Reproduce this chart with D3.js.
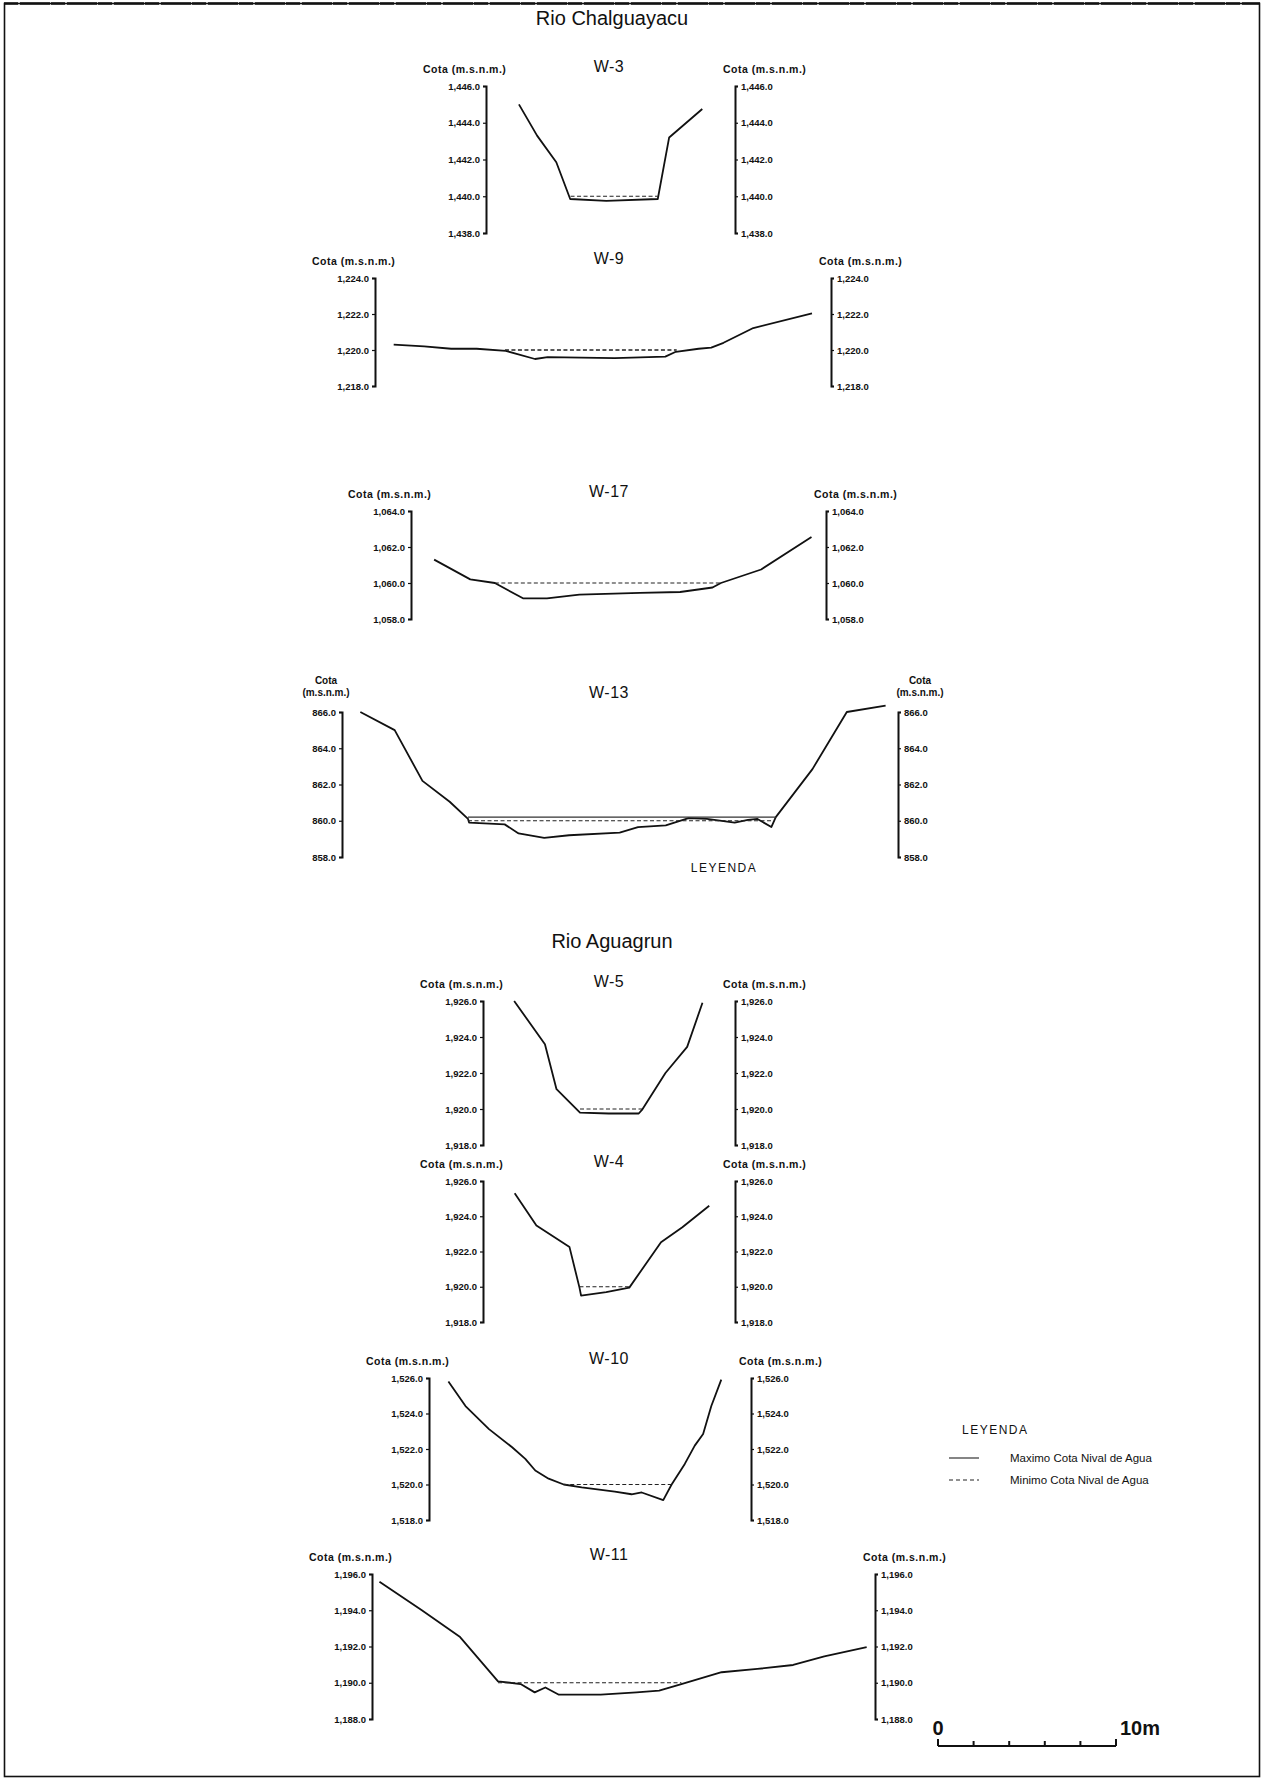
<!DOCTYPE html>
<meta charset="utf-8">
<script src="https://d3js.org/d3.v7.min.js"></script>
<style>
  body { margin: 0; background: #fff; }
  text { font-family: "Liberation Sans", Arial, sans-serif; fill: #111; }
</style>
<body>
<div id="my_dataviz"></div>
<script>

// section titles and panel names
var sectionTitles = ["Rio Chalguayacu", "Rio Aguagrun"];
var panelNames = ["W-3", "W-9", "W-17", "W-13", "W-5", "W-4", "W-10", "W-11"];

// elevation axis domains (m.s.n.m.), ticks every 2 m
var yDomains = [[1438, 1446], [1218, 1224], [1058, 1064], [858, 866],
                [1918, 1926], [1918, 1926], [1518, 1526], [1188, 1196]];

// cross sections: distance (m) and ground elevation (m.s.n.m.)
var w3Dist = [1.85, 2.87, 3.95, 4.73, 6.76, 9.65, 10.29, 12.15];
var w3Elev = [1445.0, 1443.3, 1441.85, 1439.85, 1439.75, 1439.85, 1443.2, 1444.75];

var w9Dist = [1.05, 2.76, 4.28, 5.71, 7.35, 8.99, 9.70, 13.47, 16.31, 16.90, 18.18, 18.89, 19.58, 21.25, 24.55];
var w9Elev = [1220.3, 1220.2, 1220.07, 1220.07, 1219.95, 1219.5, 1219.6, 1219.55, 1219.63, 1219.9, 1220.07, 1220.13, 1220.4, 1221.22, 1222.03];

var w17Dist = [1.30, 3.33, 4.71, 6.29, 7.64, 9.46, 12.86, 15.12, 16.94, 17.41, 19.67, 22.5];
var w17Elev = [1061.3, 1060.2, 1060.0, 1059.15, 1059.15, 1059.35, 1059.45, 1059.5, 1059.75, 1060.0, 1060.75, 1062.55];

var w13Dist = [1.03, 2.96, 4.52, 6.05, 7.08, 7.14, 9.14, 9.92, 11.36, 12.76, 15.6, 16.63, 18.19, 19.47, 20.5, 22.06, 22.81, 23.34, 24.12, 24.37, 26.43, 28.36, 30.54];
var w13Elev = [866.0, 865.0, 862.2, 861.05, 860.1, 859.9, 859.8, 859.3, 859.05, 859.2, 859.35, 859.65, 859.75, 860.15, 860.1, 859.9, 860.05, 860.1, 859.65, 860.2, 862.85, 866.0, 866.35];

var w5Dist = [1.75, 3.48, 4.13, 5.45, 7.06, 8.75, 8.93, 10.25, 11.47, 12.33];
var w5Elev = [1926.0, 1923.6, 1921.1, 1919.8, 1919.75, 1919.75, 1919.95, 1922.0, 1923.45, 1925.9];

var w4Dist = [1.78, 3.0, 4.86, 5.42, 5.51, 6.92, 8.22, 10.0, 11.2, 12.71];
var w4Elev = [1925.3, 1923.47, 1922.25, 1919.95, 1919.5, 1919.7, 1919.95, 1922.53, 1923.38, 1924.6];

var w10Dist = [1.09, 2.05, 3.37, 4.67, 5.41, 5.97, 6.72, 7.57, 8.58, 10.44, 11.38, 11.95, 13.16, 13.63, 14.37, 14.93, 15.4, 15.86, 16.42];
var w10Elev = [1525.8, 1524.42, 1523.12, 1522.1, 1521.44, 1520.79, 1520.33, 1520.0, 1519.84, 1519.6, 1519.45, 1519.55, 1519.12, 1520.0, 1521.16, 1522.19, 1522.84, 1524.42, 1525.91];

var w11Dist = [0.42, 2.80, 4.95, 7.08, 8.35, 9.14, 9.74, 10.5, 12.85, 14.86, 16.13, 17.38, 19.64, 21.65, 23.66, 25.41, 27.79];
var w11Elev = [1195.57, 1194.0, 1192.52, 1190.08, 1189.93, 1189.47, 1189.74, 1189.34, 1189.34, 1189.47, 1189.56, 1189.93, 1190.58, 1190.76, 1190.98, 1191.45, 1191.97];

// minimum water level (dashed): level, from, to (m)
var minLevel = [1440.0, 1220.0, 1060.0, 860.0, 1920.0, 1920.0, 1520.0, 1190.0];
var minFrom  = [4.75, 7.3, 4.71, 7.08, 5.45, 5.42, 7.57, 7.08];
var minTo    = [9.65, 16.95, 17.41, 24.2, 8.93, 8.22, 13.63, 17.38];

// maximum water level (solid), only distinct at W-13
var maxLevel = [null, null, null, 860.2, null, null, null, null];
var maxFrom  = [null, null, null, 7.08, null, null, null, null];
var maxTo    = [null, null, null, 24.37, null, null, null, null];

// legend and scale bar
var legendLabels = ["Maximo Cota Nival de Agua", "Minimo Cota Nival de Agua"];
var scaleTicks = [0, 2, 4, 6, 8, 10];

var dists = [w3Dist, w9Dist, w17Dist, w13Dist, w5Dist, w4Dist, w10Dist, w11Dist];
var elevs = [w3Elev, w9Elev, w17Elev, w13Elev, w5Elev, w4Elev, w10Elev, w11Elev];

// page layout (pixels) for each panel: left axis, right axis, top, bottom
var frames = [
    { left: 486, right: 735, top: 86,   bottom: 233 },
    { left: 375, right: 831, top: 278,  bottom: 386 },
    { left: 411, right: 826, top: 511,  bottom: 619 },
    { left: 342, right: 898, top: 712,  bottom: 857 },
    { left: 483, right: 735, top: 1001, bottom: 1145 },
    { left: 483, right: 735, top: 1181, bottom: 1322 },
    { left: 429, right: 751, top: 1378, bottom: 1520 },
    { left: 372, right: 875, top: 1574, bottom: 1719 }
];
var pxPerMetre = 17.8;
var titleX = 609;

var width = 1263, height = 1780;

var svg = d3.select("#my_dataviz")
    .append("svg")
    .attr("width", width)
    .attr("height", height);

// page frame
svg.append("rect")
    .attr("x", 4.5).attr("y", 3.5)
    .attr("width", 1255).attr("height", 1773)
    .attr("fill", "none")
    .attr("stroke", "#111")
    .attr("stroke-width", 1.6);
svg.append("line")
    .attr("x1", 4).attr("x2", 1260)
    .attr("y1", 3.5).attr("y2", 3.5)
    .attr("stroke", "#111")
    .attr("stroke-width", 2.6)
    .attr("stroke-dasharray", "14,2,30,1");

// section titles
svg.append("text")
    .attr("x", 612).attr("y", 25)
    .attr("text-anchor", "middle")
    .attr("font-size", "20px")
    .text(sectionTitles[0]);
svg.append("text")
    .attr("x", 612).attr("y", 948)
    .attr("text-anchor", "middle")
    .attr("font-size", "20px")
    .text(sectionTitles[1]);

panelNames.forEach(function (name, i) {
    var f = frames[i];
    var dom = yDomains[i];
    var widthM = (f.right - f.left) / pxPerMetre;

    var x = d3.scaleLinear().domain([0, widthM]).range([f.left, f.right]);
    var y = d3.scaleLinear().domain(dom).range([f.bottom, f.top]);

    var g = svg.append("g");
    var fmt = dom[0] >= 1000 ? d3.format(",.1f") : d3.format(".1f");
    var ticks = d3.range(dom[0], dom[1] + 0.01, 2);

    // left axis
    var la = g.append("g")
        .attr("transform", "translate(" + f.left + ",0)")
        .call(d3.axisLeft(y).tickValues(ticks).tickFormat(fmt).tickSize(3).tickPadding(3));
    // right axis
    var ra = g.append("g")
        .attr("transform", "translate(" + f.right + ",0)")
        .call(d3.axisRight(y).tickValues(ticks).tickFormat(fmt).tickSize(3).tickPadding(3));

    [la, ra].forEach(function (a) {
        a.select(".domain").attr("stroke", "#111").attr("stroke-width", 2);
        a.selectAll(".tick line").attr("stroke", "#111").attr("stroke-width", 1.2);
        a.selectAll(".tick text")
            .attr("font-family", "'Liberation Sans', Arial, sans-serif")
            .attr("font-size", "9.5px")
            .attr("font-weight", "bold")
            .attr("fill", "#222");
    });

    // panel title
    g.append("text")
        .attr("x", titleX).attr("y", f.top - 14)
        .attr("text-anchor", "middle")
        .attr("font-size", "16px")
        .attr("letter-spacing", "0.5px")
        .text(name);

    // "Cota" labels
    if (name === "W-13") {
        [[f.left - 16], [f.right + 22]].forEach(function (p) {
            g.append("text").attr("x", p[0]).attr("y", f.top - 28)
                .attr("text-anchor", "middle").attr("font-size", "10px").attr("font-weight", "bold")
                .text("Cota");
            g.append("text").attr("x", p[0]).attr("y", f.top - 16)
                .attr("text-anchor", "middle").attr("font-size", "10px").attr("font-weight", "bold")
                .text("(m.s.n.m.)");
        });
    } else {
        g.append("text").attr("x", f.left - 63).attr("y", f.top - 13)
            .attr("font-size", "10.5px").attr("font-weight", "bold")
            .attr("letter-spacing", "0.5px")
            .text("Cota (m.s.n.m.)");
        g.append("text").attr("x", f.right - 12).attr("y", f.top - 13)
            .attr("font-size", "10.5px").attr("font-weight", "bold")
            .attr("letter-spacing", "0.5px")
            .text("Cota (m.s.n.m.)");
    }

    // ground profile
    var pts = dists[i].map(function (d, k) { return [d, elevs[i][k]]; });
    g.append("path")
        .datum(pts)
        .attr("fill", "none")
        .attr("stroke", "#111")
        .attr("stroke-width", 1.8)
        .attr("stroke-linejoin", "round")
        .attr("d", d3.line().x(function (d) { return x(d[0]); }).y(function (d) { return y(d[1]); }));

    // maximum water level
    if (maxLevel[i] !== null) {
        g.append("line")
            .attr("x1", x(maxFrom[i])).attr("x2", x(maxTo[i]))
            .attr("y1", y(maxLevel[i])).attr("y2", y(maxLevel[i]))
            .attr("stroke", "#333").attr("stroke-width", 1.1);
    }

    // minimum water level
    g.append("line")
        .attr("x1", x(minFrom[i])).attr("x2", x(minTo[i]))
        .attr("y1", y(minLevel[i])).attr("y2", y(minLevel[i]))
        .attr("stroke", "#222")
        .attr("stroke-width", name === "W-9" ? 1.6 : 1.2)
        .attr("stroke-dasharray", "4,2.5");
});

// "LEYENDA" under W-13
svg.append("text")
    .attr("x", 724).attr("y", 872)
    .attr("text-anchor", "middle")
    .attr("font-size", "12px")
    .attr("letter-spacing", "1.5px")
    .text("LEYENDA");

// legend
var legend = svg.append("g");
legend.append("text")
    .attr("x", 962).attr("y", 1434)
    .attr("font-size", "12px")
    .attr("letter-spacing", "1.5px")
    .text("LEYENDA");
legendLabels.forEach(function (lab, k) {
    var ly = 1458 + k * 22;
    legend.append("line")
        .attr("x1", 949).attr("x2", 979)
        .attr("y1", ly).attr("y2", ly)
        .attr("stroke", "#222").attr("stroke-width", 1.1)
        .attr("stroke-dasharray", k === 0 ? null : "4,3");
    legend.append("text")
        .attr("x", 1010).attr("y", ly + 4)
        .attr("font-size", "11.5px")
        .text(lab);
});

// scale bar 0 - 10 m
var sx = d3.scaleLinear().domain([0, 10]).range([938, 938 + 10 * pxPerMetre]);
var bar = svg.append("g");
bar.append("line")
    .attr("x1", sx(0)).attr("x2", sx(10))
    .attr("y1", 1746).attr("y2", 1746)
    .attr("stroke", "#111").attr("stroke-width", 2);
bar.selectAll(".sbt")
    .data(scaleTicks)
    .enter()
    .append("line")
    .attr("x1", function (d) { return sx(d); })
    .attr("x2", function (d) { return sx(d); })
    .attr("y1", 1746)
    .attr("y2", function (d) { return (d === 0 || d === 10) ? 1739 : 1741; })
    .attr("stroke", "#111").attr("stroke-width", 2);
bar.append("text")
    .attr("x", sx(0)).attr("y", 1735)
    .attr("text-anchor", "middle")
    .attr("font-size", "20px")
    .attr("font-weight", "bold")
    .text("0");
bar.append("text")
    .attr("x", sx(10) + 24).attr("y", 1735)
    .attr("text-anchor", "middle")
    .attr("font-size", "20px")
    .attr("font-weight", "bold")
    .text("10m");

</script>
</body>
